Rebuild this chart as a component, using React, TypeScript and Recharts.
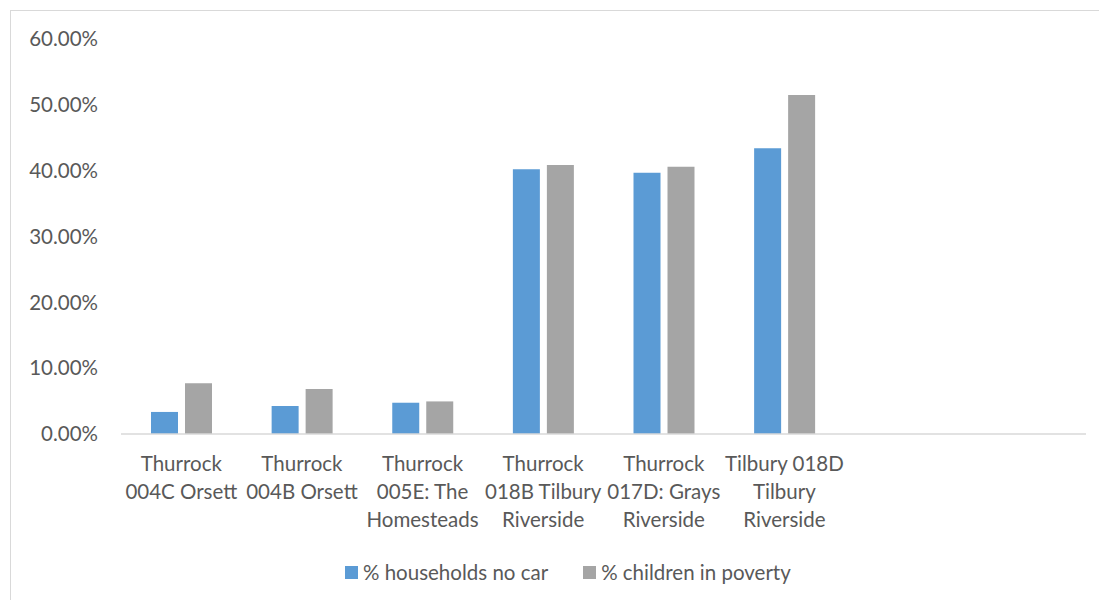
import { BarChart, Bar, XAxis, YAxis } from "recharts"

const areas = [
  ["Thurrock", "004C Orsett"],
  ["Thurrock", "004B Orsett"],
  ["Thurrock", "005E: The", "Homesteads"],
  ["Thurrock", "018B Tilbury", "Riverside"],
  ["Thurrock", "017D: Grays", "Riverside"],
  ["Tilbury 018D", "Tilbury", "Riverside"],
  [],
  [],
]
const noCar = [3.35, 4.25, 4.75, 40.2, 39.7, 43.4, null, null]
const childPoverty = [7.7, 6.85, 4.95, 40.85, 40.6, 51.5, null, null]
const yTicks = [0, 10, 20, 30, 40, 50, 60]

const series = [
  { key: "noCar", label: "% households no car", color: "#5b9bd5" },
  { key: "childPoverty", label: "% children in poverty", color: "#a5a5a5" },
]

const data = areas.map((lines, i) => ({
  name: lines.join(" ") || `blank${i}`,
  noCar: noCar[i],
  childPoverty: childPoverty[i],
}))

const font = "Lato, 'Open Sans', sans-serif"
const fontSize = 20.5
const textColor = "#595959"

function AreaTick(props: any) {
  const { x, y, index } = props
  const lines = areas[index] || []
  return (
    <text x={x} y={y} textAnchor="middle" fill={textColor} fontSize={fontSize} fontFamily={font}>
      {lines.map((line, i) => (
        <tspan key={i} x={x} dy={i === 0 ? 37 : 28}>
          {line}
        </tspan>
      ))}
    </text>
  )
}

export default function App() {
  return (
    <div style={{ position: "fixed", left: 0, top: 0, width: 1099, height: 600, background: "#fff" }}>
      <div
        style={{
          position: "absolute",
          left: 10,
          top: 10,
          width: 1100,
          height: 600,
          border: "1px solid #d9d9d9",
        }}
      />
      <BarChart
        width={1099}
        height={600}
        data={data}
        margin={{ top: 39, right: 13, bottom: 136, left: 0 }}
        barSize={27}
        barGap={7}
      >
        <XAxis
          dataKey="name"
          height={30}
          interval={0}
          tickLine={false}
          tickSize={0}
          tickMargin={0}
          axisLine={{ stroke: "#d9d9d9", strokeWidth: 1.5 }}
          tick={<AreaTick />}
        />
        <YAxis
          width={121}
          domain={[0, 60]}
          ticks={yTicks}
          interval={0}
          axisLine={false}
          tickLine={false}
          tickSize={0}
          tickMargin={23}
          tickFormatter={(v: number) => `${v.toFixed(2)}%`}
          tick={{ fill: textColor, fontSize, fontFamily: font }}
        />
        {series.map((s) => (
          <Bar key={s.key} dataKey={s.key} name={s.label} fill={s.color} isAnimationActive={false} />
        ))}
      </BarChart>
      {/* legend row under the category labels */}
      <div
        style={{
          position: "absolute",
          left: 345,
          top: 560,
          display: "flex",
          alignItems: "center",
          fontFamily: font,
          fontSize,
          color: textColor,
          whiteSpace: "nowrap",
        }}
      >
        {series.map((s, i) => (
          <div key={s.key} style={{ display: "flex", alignItems: "center", marginRight: i === 0 ? 35 : 0 }}>
            <span style={{ width: 13, height: 13, background: s.color, display: "inline-block", marginRight: 5 }} />
            <span>{s.label}</span>
          </div>
        ))}
      </div>
    </div>
  )
}
